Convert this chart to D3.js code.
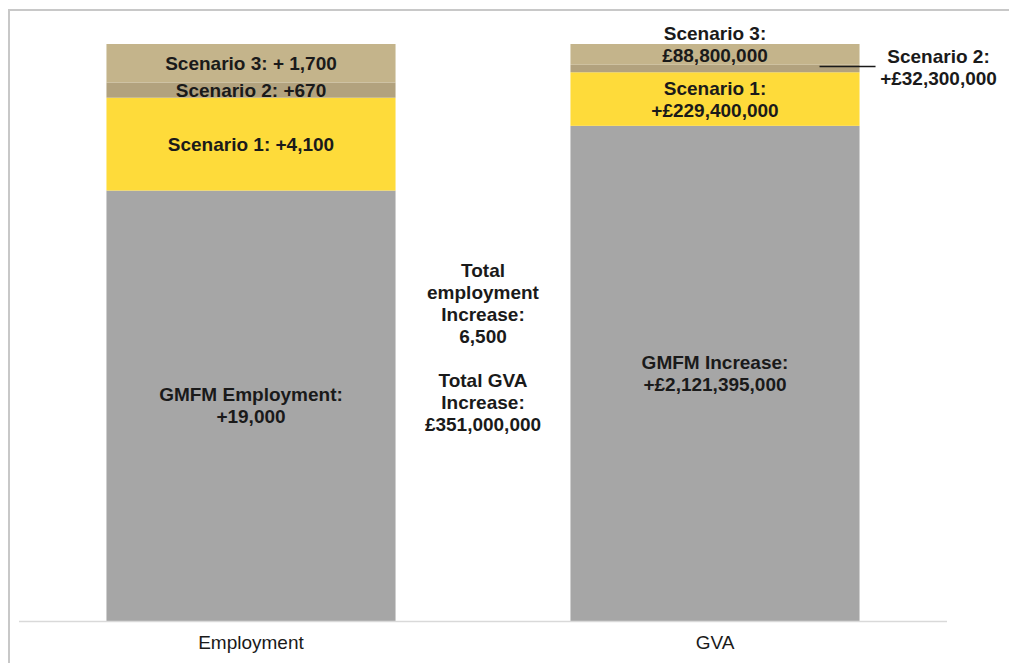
<!DOCTYPE html>
<html>
<head>
<meta charset="utf-8">
<script src="https://cdn.jsdelivr.net/npm/d3@7"></script>
<style>
  html, body { margin: 0; padding: 0; background: #ffffff; }
  svg { display: block; }
  text { font-family: "Liberation Sans", Arial, sans-serif; fill: #1a1a1a; }
</style>
</head>
<body>
<svg id="chart" width="1009" height="663"></svg>
<script>
// Categories and stacked series (each bar is shown as 100% of its own total)
const categories = ["Employment", "GVA"];
const seriesNames = ["GMFM", "Scenario 1", "Scenario 2", "Scenario 3"];
const employmentValues = [19000, 4100, 670, 1700];
const gvaValues = [2121395000, 229400000, 32300000, 88800000];

// Segment labels, one entry per series (lines of text)
const employmentLabels = [
  ["GMFM Employment:", "+19,000"],
  ["Scenario 1: +4,100"],
  ["Scenario 2: +670"],
  ["Scenario 3: + 1,700"]
];
const gvaLabels = [
  ["GMFM Increase:", "+£2,121,395,000"],
  ["Scenario 1:", "+£229,400,000"],
  ["Scenario 2:", "+£32,300,000"],
  ["Scenario 3:", "£88,800,000"]
];
const totalsNote = ["Total", "employment", "Increase:", "6,500", "", "Total GVA", "Increase:", "£351,000,000"];

const seriesColors = ["#a6a6a6", "#fedb3a", "#b2a27e", "#c4b48b"];

const svg = d3.select("#chart");
const W = 1009, H = 663;

// Outer frame (top and left edges visible)
svg.append("path")
  .attr("d", `M9,${H} L9,10 L${W},10`)
  .attr("fill", "none")
  .attr("stroke", "#c8c8c8")
  .attr("stroke-width", 2);

const plot = { left: 19, right: 947, top: 44, bottom: 621 };

const x = d3.scaleBand()
  .domain(categories)
  .range([plot.left, plot.right])
  .paddingInner(0.377)
  .paddingOuter(0.1885);

const y = d3.scaleLinear().domain([0, 1]).range([plot.bottom, plot.top]);

// Build the table that d3.stack needs, as shares of each category's total
const valuesByCat = { "Employment": employmentValues, "GVA": gvaValues };
const labelsByCat = { "Employment": employmentLabels, "GVA": gvaLabels };
const table = categories.map(c => {
  const vals = valuesByCat[c];
  const total = d3.sum(vals);
  const row = { category: c };
  seriesNames.forEach((s, i) => { row[s] = vals[i] / total; });
  return row;
});

const stacked = d3.stack().keys(seriesNames)(table);

const layers = svg.append("g").selectAll("g")
  .data(stacked)
  .join("g")
  .attr("fill", (d, i) => seriesColors[i]);

layers.selectAll("rect")
  .data(d => d)
  .join("rect")
  .attr("x", d => x(d.data.category))
  .attr("width", x.bandwidth())
  .attr("y", d => y(d[1]))
  .attr("height", d => y(d[0]) - y(d[1]));

// Category axis
svg.append("line")
  .attr("x1", plot.left).attr("x2", plot.right)
  .attr("y1", plot.bottom + 0.5).attr("y2", plot.bottom + 0.5)
  .attr("stroke", "#d9d9d9")
  .attr("stroke-width", 1.5);

svg.append("g").selectAll("text")
  .data(categories)
  .join("text")
  .attr("x", d => x(d) + x.bandwidth() / 2)
  .attr("y", 642)
  .attr("dy", "0.35em")
  .attr("text-anchor", "middle")
  .attr("font-size", 19)
  .text(d => d);

// Multi-line text block centred on (cx, cy)
const lineH = 22;
function textBlock(lines, cx, cy) {
  const g = svg.append("g");
  const n = lines.length;
  lines.forEach((t, i) => {
    g.append("text")
      .attr("x", cx)
      .attr("y", cy + (i - (n - 1) / 2) * lineH)
      .attr("dy", "0.35em")
      .attr("text-anchor", "middle")
      .attr("font-size", 19)
      .attr("font-weight", "bold")
      .text(t);
  });
  return g;
}

// Segment labels
stacked.forEach((layer, si) => {
  layer.forEach(seg => {
    const cat = seg.data.category;
    const lines = labelsByCat[cat][si];
    const cx = x(cat) + x.bandwidth() / 2;
    let cy = (y(seg[0]) + y(seg[1])) / 2;
    if (cat === "GVA" && seriesNames[si] === "Scenario 3") {
      // thin band: label straddles its top edge
      cy = y(seg[1]);
    }
    if (cat === "GVA" && seriesNames[si] === "Scenario 2") {
      // thin band: label placed outside with a leader line
      const xr = x(cat) + x.bandwidth();
      svg.append("line")
        .attr("x1", xr - 40).attr("x2", xr + 16)
        .attr("y1", cy - 2).attr("y2", cy - 2)
        .attr("stroke", "#1a1a1a").attr("stroke-width", 1.3);
      textBlock(lines, xr + 79, cy - 1);
      return;
    }
    textBlock(lines, cx, cy);
  });
});

// Totals note between the bars
const midX = (x("Employment") + x.bandwidth() + x("GVA")) / 2;
totalsNote.forEach((t, i) => {
  svg.append("text")
    .attr("x", midX)
    .attr("y", 270 + i * lineH)
    .attr("dy", "0.35em")
    .attr("text-anchor", "middle")
    .attr("font-size", 19)
    .attr("font-weight", "bold")
    .text(t);
});
</script>
</body>
</html>
